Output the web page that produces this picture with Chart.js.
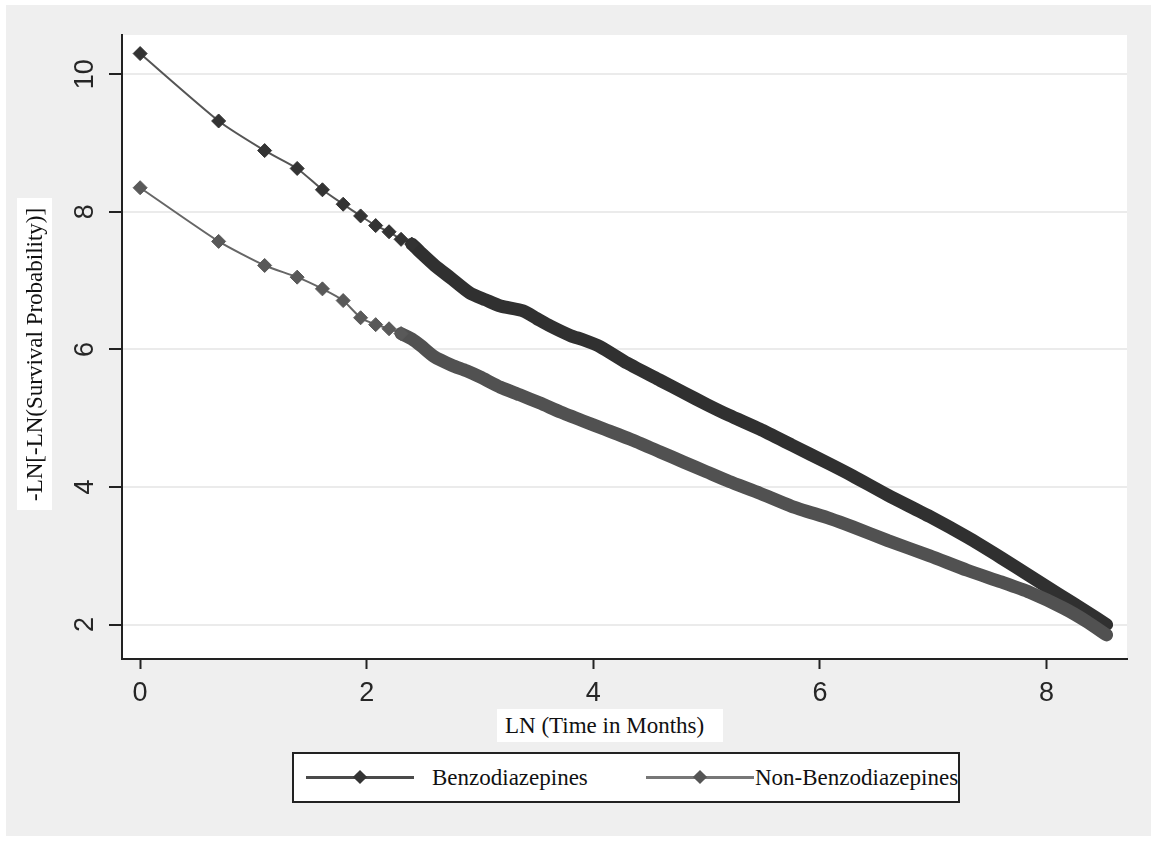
<!DOCTYPE html>
<html>
<head>
<meta charset="utf-8">
<script src="https://cdn.jsdelivr.net/npm/chart.js@4.4.0/dist/chart.umd.min.js"></script>
<style>
  html, body { margin: 0; padding: 0; background: #fff; }
  #wrap { position: relative; width: 1151px; height: 841px; overflow: hidden; }
  #panel { position: absolute; left: 6px; top: 5px; width: 1145px; height: 831px; background: #efefef; }
  #c { position: absolute; left: 0; top: 0; }
  .serif { font-family: "Liberation Serif", "Times New Roman", serif; font-size: 23px; color: #111; white-space: nowrap; }
  #ytitle { position: absolute; left: 17px; top: 198px; width: 35px; height: 312px; background: #fff;
            writing-mode: vertical-rl; transform: rotate(180deg); text-align: center; line-height: 35px; }
  #xtitle { position: absolute; left: 497px; top: 709px; width: 218px; height: 33px; padding-left: 8px;
            background: #fff; line-height: 33px; }
  #legend { position: absolute; left: 292px; top: 752px; width: 668px; height: 51px; box-sizing: border-box;
            border: 2px solid #222; background: #fff; }
  #legend .ln { position: absolute; top: 22px; width: 108px; height: 3px; }
  #legend .dm { position: absolute; top: 18px; width: 10px; height: 10px; transform: rotate(45deg); }
  #legend .tx { position: absolute; top: 0; line-height: 47px; }
</style>
</head>
<body>
<div id="wrap">
  <div id="panel"></div>
  <canvas id="c" width="1151" height="841"></canvas>
  <div id="ytitle" class="serif">-LN[-LN(Survival Probability)]</div>
  <div id="xtitle" class="serif">LN (Time in Months)</div>
  <div id="legend">
    <div class="ln" style="left:12px;background:#4a4a4a"></div>
    <div class="dm" style="left:61px;background:#333"></div>
    <div class="tx serif" style="left:138px">Benzodiazepines</div>
    <div class="ln" style="left:352px;background:#777"></div>
    <div class="dm" style="left:401px;background:#555"></div>
    <div class="tx serif" style="left:461px">Non-Benzodiazepines</div>
  </div>
</div>
<script>
// x = LN(time in months), y = -LN[-LN(S)]
const BENZ_X = [0, 0.693, 1.099, 1.386, 1.609, 1.792, 1.946, 2.079, 2.197, 2.303, 2.398,
  2.48, 2.60, 2.74, 2.91, 3.05, 3.18, 3.38, 3.50, 3.62, 3.80, 3.91, 4.06, 4.30, 4.59, 4.80,
  5.00, 5.20, 5.47, 5.75, 6.09, 6.29, 6.60, 6.97, 7.30, 7.60, 7.85, 8.10, 8.35, 8.53];
const BENZ_Y = [10.30, 9.32, 8.89, 8.63, 8.32, 8.11, 7.94, 7.80, 7.71, 7.60, 7.53,
  7.40, 7.22, 7.04, 6.82, 6.72, 6.63, 6.56, 6.45, 6.34, 6.20, 6.14, 6.04, 5.80, 5.55, 5.37,
  5.20, 5.04, 4.84, 4.61, 4.33, 4.16, 3.88, 3.57, 3.27, 2.97, 2.71, 2.45, 2.19, 2.00];

const NONBENZ_X = [0, 0.693, 1.099, 1.386, 1.609, 1.792, 1.946, 2.079, 2.197, 2.303,
  2.398, 2.48, 2.59, 2.75, 2.88, 3.00, 3.18, 3.35, 3.53, 3.71, 3.91, 4.10, 4.35, 4.59, 4.80,
  5.00, 5.20, 5.47, 5.75, 6.09, 6.29, 6.60, 6.97, 7.30, 7.60, 7.85, 8.15, 8.35, 8.53];
const NONBENZ_Y = [8.35, 7.57, 7.22, 7.05, 6.88, 6.71, 6.46, 6.36, 6.30, 6.23,
  6.15, 6.05, 5.90, 5.77, 5.69, 5.60, 5.45, 5.34, 5.22, 5.09, 4.96, 4.84, 4.68, 4.51, 4.36,
  4.22, 4.08, 3.91, 3.72, 3.54, 3.42, 3.22, 3.00, 2.79, 2.62, 2.47, 2.24, 2.05, 1.85];

const X_TICKS = [0, 2, 4, 6, 8];
const Y_TICKS = [2, 4, 6, 8, 10];

// first point where the markers pile up into a solid band
const BENZ_BAND_FROM = 10;
const NONBENZ_BAND_FROM = 9;

function series(xs, ys, bandFrom, thin, mark, band) {
  return {
    data: xs.map((x, i) => ({ x, y: ys[i] })),
    borderColor: thin,
    borderWidth: 2,
    tension: 0.2,
    borderCapStyle: "round",
    borderJoinStyle: "round",
    pointStyle: "rectRot",
    pointRadius: (c) => (c.dataIndex <= bandFrom ? 7 : 0),
    pointBackgroundColor: mark,
    pointBorderColor: mark,
    pointBorderWidth: 1,
    segment: {
      borderWidth: (c) => (c.p0DataIndex >= bandFrom ? 13 : 2),
      borderColor: (c) => (c.p0DataIndex >= bandFrom ? band : thin),
    },
  };
}

const whiteArea = {
  id: "whiteArea",
  beforeDraw(chart) {
    const { ctx, chartArea: a } = chart;
    ctx.save();
    ctx.fillStyle = "#fff";
    ctx.fillRect(a.left, a.top, a.right - a.left, a.bottom - a.top);
    ctx.restore();
  },
};

const tickFont = { family: "'Liberation Sans', Arial, sans-serif", size: 27 };

new Chart(document.getElementById("c"), {
  type: "line",
  data: {
    datasets: [
      series(NONBENZ_X, NONBENZ_Y, NONBENZ_BAND_FROM, "#666", "#595959", "#515151"),
      series(BENZ_X, BENZ_Y, BENZ_BAND_FROM, "#555", "#333", "#303030"),
    ],
  },
  options: {
    responsive: false,
    animation: false,
    events: [],
    layout: { padding: { left: 0, right: 24, top: 35, bottom: 0 } },
    plugins: { legend: { display: false }, tooltip: { enabled: false } },
    scales: {
      x: {
        type: "linear",
        min: -0.16,
        max: 8.71,
        afterBuildTicks: (s) => { s.ticks = X_TICKS.map((v) => ({ value: v })); },
        afterFit: (s) => { s.height = 182; },
        grid: { drawOnChartArea: false, tickLength: 10, tickColor: "#222", tickWidth: 2 },
        border: { color: "#222", width: 2 },
        ticks: { font: tickFont, color: "#262626", padding: 8, maxRotation: 0 },
      },
      y: {
        type: "linear",
        min: 1.5,
        max: 10.57,
        afterBuildTicks: (s) => { s.ticks = Y_TICKS.map((v) => ({ value: v })); },
        afterFit: (s) => { s.width = 122; },
        grid: { color: "#ebebeb", lineWidth: 2, tickLength: 13, tickColor: "#222", tickWidth: 2 },
        border: { color: "#222", width: 2 },
        ticks: { font: tickFont, color: "#262626", minRotation: 90, maxRotation: 90, crossAlign: "center", padding: 8 },
      },
    },
  },
  plugins: [whiteArea],
});
</script>
</body>
</html>
